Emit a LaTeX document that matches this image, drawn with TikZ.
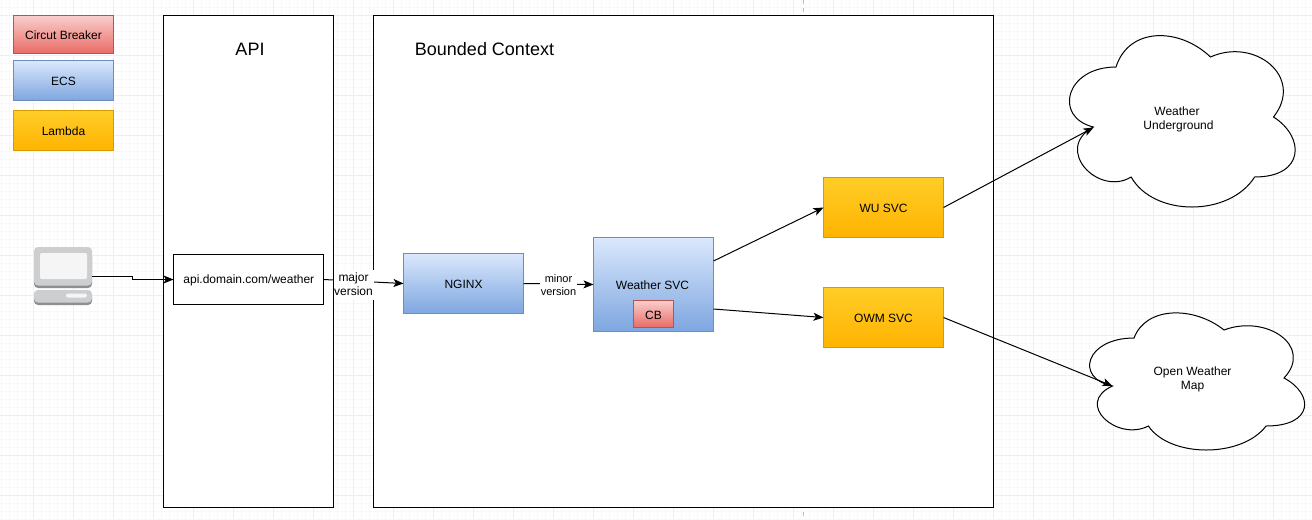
\documentclass[tikz,border=0pt]{standalone}
\usepackage{fontspec}
\setmainfont{Liberation Sans}
\usetikzlibrary{arrows.meta,positioning}
\definecolor{gmaj}{HTML}{EFEFEF}
\definecolor{gmin}{HTML}{F8F8F8}
\definecolor{redT}{HTML}{F8CECC}\definecolor{redB}{HTML}{EA6B66}\definecolor{redL}{HTML}{B85450}
\definecolor{bluT}{HTML}{DAE8FC}\definecolor{bluB}{HTML}{7EA6E0}\definecolor{bluL}{HTML}{6C8EBF}
\definecolor{ylwT}{HTML}{FFCD28}\definecolor{ylwB}{HTML}{FFB300}\definecolor{ylwL}{HTML}{D79B00}
\definecolor{pcL}{HTML}{CDCED0}\definecolor{pcD}{HTML}{8E8F91}\definecolor{pcS}{HTML}{F5F5F5}
\tikzset{
  px/.style={x=0.75pt,y=-0.75pt},
  box/.style={draw=black,line width=0.75pt,fill=white,inner sep=0pt,outer sep=0pt},
  shaded box/.style={draw=#1L,line width=0.75pt,top color=#1T,bottom color=#1B,inner sep=0pt,outer sep=0pt,align=center,font=\fontsize{9}{10.5}\selectfont},
  conn/.style={draw=black,line width=0.75pt,-{Stealth[length=7.5pt,width=6pt,inset=1.8pt]}},
  lbl/.style={fill=white,inner sep=0pt,minimum width=30pt,minimum height=22.5pt,align=center,font=\fontsize{9}{10.5}\selectfont},
  small lbl/.style={fill=white,inner sep=0.6pt,align=center,font=\fontsize{8.25}{9.75}\selectfont},
  plain/.style={align=center,inner sep=0pt,font=\fontsize{9}{10.5}\selectfont},
  title/.style={inner sep=0pt,font=\fontsize{13.5}{16}\selectfont},
}
\newcommand{\sizedbox}[7]{% style, name, x0, y0, x1, y1, text
  \node[#1,anchor=north west,minimum width={(#5-#3)*0.75pt},minimum height={(#6-#4)*0.75pt}] (#2) at (#3,#4) {\raisebox{-0.75pt}[\height][\depth]{#7}};}
\newcommand{\cloudshape}[4]{%
  \begin{scope}[shift={(#1,#2)},x=#3*0.75pt,y=-#4*0.75pt]
  \draw[line width=0.75pt,fill=white] (.25,.25)
    .. controls (.05,.25) and (0,.5) .. (.16,.55)
    .. controls (0,.66) and (.18,.9) .. (.31,.8)
    .. controls (.4,1) and (.7,1) .. (.8,.8)
    .. controls (1,.8) and (1,.6) .. (.875,.5)
    .. controls (1,.3) and (.8,.1) .. (.625,.2)
    .. controls (.5,.05) and (.3,.05) .. (.25,.25) -- cycle;
  \end{scope}}
\begin{document}
\begin{tikzpicture}[px]
\useasboundingbox (0,0) rectangle (1312,519);
% grid
\foreach \i in {0,...,164} {\draw[gmin,line width=0.75pt] ({\i*8+1.5},0) -- ({\i*8+1.5},519);}
\foreach \i in {0,...,65} {\draw[gmin,line width=0.75pt] (0,{\i*8-0.5}) -- (1312,{\i*8-0.5});}
\foreach \i in {0,...,33} {\draw[gmaj,line width=0.75pt] ({\i*40-6.5},0) -- ({\i*40-6.5},519);}
\foreach \i in {0,...,13} {\draw[gmaj,line width=0.75pt] (0,{\i*40+15.5}) -- (1312,{\i*40+15.5});}
% page break
\draw[draw=black!25,dashed,line width=0.75pt] (803.5,0) -- (803.5,519);
% containers
\sizedbox{box}{api}{163.5}{15.5}{333.5}{507.5}{}
\sizedbox{box}{ctx}{373.5}{15.5}{993.5}{507.5}{}
\node[title] (apit) at (250,49) {API};
\node[title] (ctxt) at (484.5,49) {Bounded Context};
% legend
\sizedbox{shaded box=red}{lcb}{13.5}{15.5}{113.5}{53.5}{Circut Breaker}
\sizedbox{shaded box=blu}{lecs}{13.5}{60.5}{113.5}{100.5}{ECS}
\sizedbox{shaded box=ylw}{llam}{13.5}{110.5}{113.5}{150.5}{Lambda}
% nodes
\sizedbox{box,font=\fontsize{9}{10.5}\selectfont}{gw}{173.5}{254.5}{323.5}{304.5}{\hspace*{0.5pt}api.domain.com/weather}
\sizedbox{shaded box=blu}{nginx}{403.5}{253.5}{523.5}{313.5}{NGINX}
\sizedbox{shaded box=blu}{wsvc}{593.5}{237.5}{713.5}{331.5}{}
\node[plain] (wsvct) at (652.5,285.5) {Weather SVC};
\sizedbox{shaded box=red}{cb}{633.5}{300.5}{673.5}{327.5}{CB}
\sizedbox{shaded box=ylw}{wu}{823.5}{177.5}{943.5}{237.5}{WU SVC}
\sizedbox{shaded box=ylw}{owm}{823.5}{287.5}{943.5}{347.5}{OWM SVC}
% clouds
\cloudshape{1053}{17}{252}{200}
\cloudshape{1074}{298}{240}{160}
\node[plain] (wut) at (1177,119) {Weather\\\hspace*{2.25pt}Underground};
\node[plain] (omt) at (1192.5,379) {Open Weather\\Map};
\coordinate (c1) at (1093.5,127.5);
\coordinate (c2) at (1112.5,386);
% computer icon
\begin{scope}
  \fill[pcD,rounded corners=3pt] (34,252) rectangle (92,288);
  \fill[pcL,rounded corners=3pt] (34,247) rectangle (92,285.5);
  \fill[pcS,rounded corners=1pt] (40,253) rectangle (87,279);
  \fill[pcD,rounded corners=3pt] (34,292) rectangle (92,305);
  \fill[pcL,rounded corners=3pt] (34,290) rectangle (92,302.5);
  \fill[pcS,rounded corners=1.5pt] (66,293.5) rectangle (87,297.5);
\end{scope}
\coordinate (pc) at (92,276.5);
\coordinate (pcb) at (132.5,276.5);
\coordinate (pcc) at (132.5,279.5);
% connectors
\draw[conn] (pc) -- (pcb) -- (pcc) -- (gw.west);
\draw[conn] (gw.east) -- (nginx.west);
\node[lbl] (maj) at (353.5,284.5) {major\\version};
\draw[conn] (nginx.east) -- node[small lbl,pos=0.5,yshift=-0.75pt] (mnr) {minor\\version} (wsvc.west);
\draw[conn] (wsvc.east |- 0,261) coordinate (w1) -- (wu.west);
\draw[conn] (wsvc.east |- 0,309) coordinate (w2) -- (owm.west);
\draw[conn] (wu.east) -- (c1);
\draw[conn] (owm.east) -- (c2);
\end{tikzpicture}
\end{document}
